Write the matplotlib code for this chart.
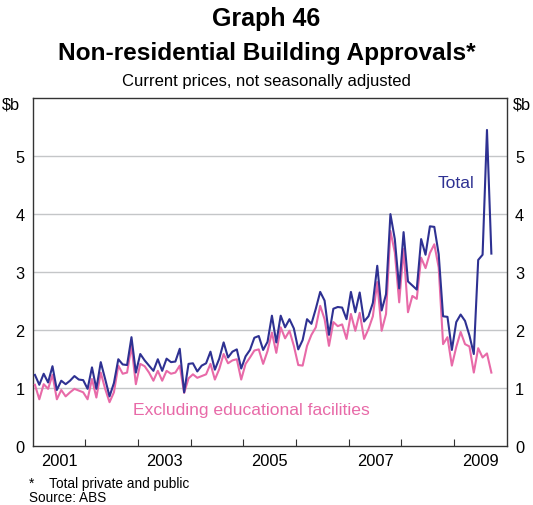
import numpy as np
import matplotlib.pyplot as plt

plt.rcParams['font.family'] = ['Liberation Sans', 'DejaVu Sans']

# monthly values, Jan 2001 .. Sep 2009 ($b)
total = [1.23, 1.06, 1.25, 1.10, 1.38, 0.97, 1.13, 1.07, 1.13, 1.21, 1.15, 1.14,
         0.99, 1.36, 0.99, 1.45, 1.16, 0.86, 1.09, 1.50, 1.41, 1.40, 1.88, 1.27,
         1.59, 1.48, 1.39, 1.30, 1.50, 1.30, 1.51, 1.45, 1.46, 1.68, 0.93, 1.42,
         1.43, 1.29, 1.39, 1.43, 1.63, 1.32, 1.51, 1.79, 1.53, 1.63, 1.67, 1.34,
         1.55, 1.66, 1.87, 1.90, 1.66, 1.80, 2.25, 1.79, 2.25, 2.05, 2.19, 2.03,
         1.67, 1.83, 2.19, 2.11, 2.37, 2.66, 2.51, 1.92, 2.37, 2.40, 2.39, 2.19,
         2.66, 2.31, 2.65, 2.15, 2.24, 2.47, 3.11, 2.34, 2.62, 4.00, 3.57, 2.72,
         3.69, 2.84, 2.77, 2.70, 3.57, 3.30, 3.79, 3.78, 3.31, 2.24, 2.23, 1.66,
         2.14, 2.27, 2.16, 1.91, 1.59, 3.21, 3.30, 5.45, 3.32]
excl_edu = [1.06, 0.81, 1.07, 0.99, 1.23, 0.81, 0.97, 0.86, 0.93, 0.99, 0.96, 0.93,
            0.81, 1.16, 0.84, 1.27, 0.99, 0.76, 0.93, 1.39, 1.25, 1.27, 1.73, 1.07,
            1.42, 1.38, 1.27, 1.13, 1.30, 1.13, 1.30, 1.25, 1.27, 1.39, 0.92, 1.17,
            1.24, 1.18, 1.21, 1.24, 1.42, 1.15, 1.33, 1.59, 1.43, 1.48, 1.50, 1.15,
            1.42, 1.53, 1.65, 1.67, 1.42, 1.64, 1.96, 1.61, 2.05, 1.86, 1.99, 1.73,
            1.40, 1.39, 1.73, 1.92, 2.05, 2.42, 2.19, 1.73, 2.14, 2.07, 2.10, 1.85,
            2.28, 1.99, 2.30, 1.85, 2.02, 2.24, 2.83, 1.99, 2.28, 3.71, 3.34, 2.48,
            3.40, 2.31, 2.59, 2.54, 3.25, 3.07, 3.33, 3.48, 3.08, 1.76, 1.88, 1.39,
            1.71, 1.97, 1.76, 1.72, 1.27, 1.69, 1.53, 1.60, 1.27]
years = ['2001', '2003', '2005', '2007', '2009']
year_pos = [2001, 2003, 2005, 2007, 2009]

navy = '#2e3192'
pink = '#e86aa8'

fig = plt.figure(figsize=(5.33, 5.06), dpi=100)
ax = fig.add_axes([0.0614, 0.116, 0.8893, 0.6883])

t = 2001 + (np.arange(len(total)) + 0.5) / 12
ax.plot(t, excl_edu, color=pink, lw=1.5, zorder=3)
ax.plot(t, total, color=navy, lw=1.5, zorder=4)

ax.set_xlim(2001, 2010)
ax.set_ylim(0, 6)
for v in range(1, 6):
    ax.axhline(v, color='#c4c6c8', lw=1.0, zorder=1)

ax.set_xticks(range(2002, 2010))
ax.set_xticks([y + 0.5 for y in year_pos], minor=True)
ax.set_xticklabels(years, minor=True)
ax.tick_params(axis='x', which='major', direction='in', length=5, labelbottom=False,
               width=0.8, color='#333333')
ax.tick_params(axis='x', which='minor', length=0, labelsize=11.8, pad=5)
ax.set_yticks(range(0, 6))
ax.tick_params(axis='y', length=0, labelsize=11.8, pad=6, labelright=True)
for s in ax.spines.values():
    s.set_color('#333333')
    s.set_linewidth(1.0)

ax.text(2009.38, 4.55, 'Total', color=navy, fontsize=12.6, ha='right', va='center')
ax.text(2002.9, 0.64, 'Excluding educational facilities', color=pink, fontsize=12.6,
        ha='left', va='center')

fig.text(0.5, 0.962, 'Graph 46', ha='center', va='center', fontsize=18, fontweight='bold')
fig.text(0.5, 0.894, 'Non-residential Building Approvals*', ha='center', va='center',
         fontsize=17.6, fontweight='bold')
fig.text(0.5, 0.838, 'Current prices, not seasonally adjusted', ha='center', va='center',
         fontsize=12)
fig.text(0.004, 0.792, '$b', ha='left', va='center', fontsize=11.8)
fig.text(0.996, 0.792, '$b', ha='right', va='center', fontsize=11.8)
fig.text(0.054, 0.044, '*    Total private and public', ha='left', va='center', fontsize=9.8)
fig.text(0.054, 0.015, 'Source: ABS', ha='left', va='center', fontsize=9.8)

fig.savefig('out.png', dpi=100)
